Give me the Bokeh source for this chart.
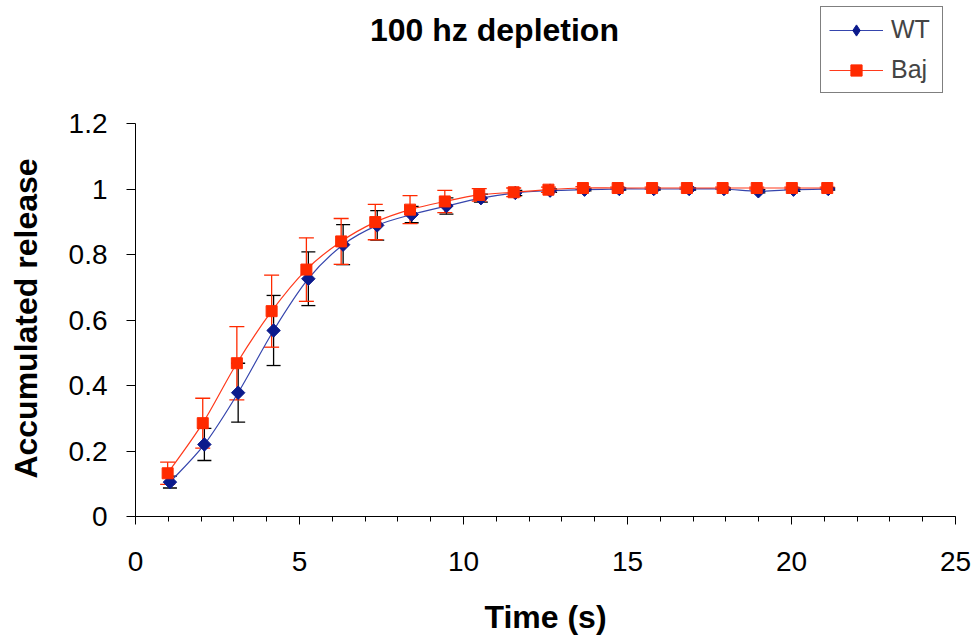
import numpy as np
from bokeh.plotting import figure
from bokeh.layouts import row
from bokeh.models import (ColumnDataSource, Range1d, FixedTicker, Whisker, TeeHead,
                          Label, Legend, LegendItem)
from bokeh.core.properties import value
from bokeh.embed import file_html
from bokeh.resources import INLINE

# ---------------- data ----------------
title_text = "100 hz depletion"
x_label = "Time (s)"
y_label = "Accumulated release"
x_ticks = [0, 5, 10, 15, 20, 25]
x_minor_ticks = list(range(0, 26))
y_ticks = [0, 0.2, 0.4, 0.6, 0.8, 1.0, 1.2]
y_tick_labels = ["0", "0.2", "0.4", "0.6", "0.8", "1", "1.2"]

wt_time = [1.05, 2.10, 3.13, 4.21, 5.27, 6.33, 7.37, 8.42, 9.48, 10.53,
           11.58, 12.64, 13.69, 14.75, 15.80, 16.88, 17.94, 18.99, 20.06, 21.12]
wt_release = [0.105, 0.220, 0.378, 0.568, 0.726, 0.830, 0.889, 0.922, 0.948, 0.972,
              0.988, 0.995, 0.998, 1.000, 1.000, 1.000, 1.000, 0.993, 0.998, 1.000]
wt_err = [0.018, 0.049, 0.090, 0.107, 0.082, 0.061, 0.045, 0.025, 0.025, 0.012,
          0.008, 0.005, 0.004, 0.003, 0.003, 0.003, 0.003, 0.005, 0.005, 0.003]

baj_time = [0.98, 2.05, 3.09, 4.15, 5.21, 6.27, 7.31, 8.37, 9.43, 10.48,
            11.53, 12.59, 13.64, 14.70, 15.75, 16.81, 17.90, 18.94, 20.01, 21.09]
baj_release = [0.132, 0.285, 0.468, 0.627, 0.754, 0.840, 0.899, 0.937, 0.962, 0.982,
               0.990, 0.998, 1.003, 1.003, 1.003, 1.003, 1.003, 1.003, 1.003, 1.003]
baj_err = [0.034, 0.076, 0.112, 0.110, 0.097, 0.070, 0.054, 0.043, 0.034, 0.019,
           0.013, 0.008, 0.004, 0.003, 0.003, 0.003, 0.003, 0.003, 0.003, 0.003]

FONT = "Liberation Sans"
WT_LINE = "#3545ad"
WT_MARK = "#0b1a8c"
BAJ_LINE = "#ff3a1c"
BAJ_MARK = "#ff2a00"

LABEL_STRIP = 50     # width of the strip that carries the vertical axis title
TOTAL_H = 637
FRAME_H = 516


def smooth_segments(xs, ys):
    """Bezier control points (Catmull-Rom style, like a smoothed spreadsheet line)."""
    xs = np.asarray(xs, float)
    ys = np.asarray(ys, float)
    n = len(xs)
    d = dict(x0=[], y0=[], x1=[], y1=[], cx0=[], cy0=[], cx1=[], cy1=[])
    for i in range(n - 1):
        a = max(i - 1, 0)
        b = min(i + 2, n - 1)
        d["x0"].append(xs[i]); d["y0"].append(ys[i])
        d["x1"].append(xs[i + 1]); d["y1"].append(ys[i + 1])
        d["cx0"].append(xs[i] + (xs[i + 1] - xs[a]) / 6)
        d["cy0"].append(ys[i] + (ys[i + 1] - ys[a]) / 6)
        d["cx1"].append(xs[i + 1] - (xs[b] - xs[i]) / 6)
        d["cy1"].append(ys[i + 1] - (ys[b] - ys[i]) / 6)
    return ColumnDataSource(d)


# ---- narrow strip with the rotated y-axis title (pixel coordinates) ----
ylab = figure(width=LABEL_STRIP, height=TOTAL_H,
              x_range=Range1d(0, LABEL_STRIP), y_range=Range1d(0, FRAME_H),
              x_axis_type=None, y_axis_type=None,
              min_border_left=0, min_border_right=0, min_border_top=0,
              min_border_bottom=TOTAL_H - FRAME_H,
              output_backend="svg", toolbar_location=None,
              background_fill_color="white", border_fill_color="white",
              outline_line_color=None)
ylab.grid.visible = False
ylab.text(x=[25], y=[FRAME_H - 318], text=[y_label], angle=np.pi / 2,
          text_align="center", text_baseline="alphabetic",
          text_font=value(FONT), text_font_size="32px", text_font_style="bold",
          text_color="black")

# ---- main chart ----
p = figure(frame_width=820, frame_height=FRAME_H,
           min_border_left=135 - LABEL_STRIP, min_border_right=21,
           min_border_top=0, min_border_bottom=TOTAL_H - FRAME_H,
           x_range=Range1d(0, 25), y_range=Range1d(0, 1.5756),
           output_backend="svg", toolbar_location=None,
           background_fill_color="white", border_fill_color="white",
           outline_line_color=None)
p.grid.visible = False

# axes
p.xaxis.ticker = FixedTicker(ticks=x_ticks, minor_ticks=x_minor_ticks)
p.yaxis.ticker = FixedTicker(ticks=y_ticks)
p.yaxis.major_label_overrides = {t: l for t, l in zip(y_ticks, y_tick_labels)}
p.xaxis.bounds = (0, 25)
p.yaxis.bounds = (0, 1.2)
for ax in (p.xaxis, p.yaxis):
    ax.axis_line_color = "black"
    ax.axis_line_width = 1
    ax.major_tick_line_color = "black"
    ax.minor_tick_line_color = "black"
    ax.major_tick_in = 0
    ax.minor_tick_in = 0
    ax.major_label_text_font = FONT
    ax.major_label_text_font_size = "28px"
    ax.major_label_text_color = "black"
p.xaxis.major_label_standoff = 27
p.yaxis.major_label_standoff = 19
p.xaxis.major_tick_out = 8
p.xaxis.minor_tick_out = 5
p.yaxis.major_tick_out = 9
p.yaxis.minor_tick_out = 0
p.xaxis.axis_label = x_label
p.xaxis.axis_label_text_font = FONT
p.xaxis.axis_label_text_font_size = "32px"
p.xaxis.axis_label_text_font_style = "bold"
p.xaxis.axis_label_text_color = "black"
p.xaxis.axis_label_standoff = 25

# chart title
p.add_layout(Label(x=10.945, y=1.484, text=title_text,
                   text_align="center", text_baseline="middle",
                   text_font=FONT, text_font_size="32px", text_font_style="bold",
                   text_color="black"))

# WT series
wt_src = ColumnDataSource(dict(x=wt_time, y=wt_release,
                               upper=[v + e for v, e in zip(wt_release, wt_err)],
                               lower=[v - e for v, e in zip(wt_release, wt_err)]))
p.add_layout(Whisker(base="x", upper="upper", lower="lower", source=wt_src,
                     dimension="height", line_color="black", line_width=1.3,
                     upper_head=TeeHead(size=14, line_color="black", line_width=1.3),
                     lower_head=TeeHead(size=14, line_color="black", line_width=1.3)))
wt_curve = p.bezier(x0="x0", y0="y0", x1="x1", y1="y1", cx0="cx0", cy0="cy0",
                    cx1="cx1", cy1="cy1", source=smooth_segments(wt_time, wt_release),
                    line_color=WT_LINE, line_width=1.2)
# diamond symbol (used by the legend), drawn beneath the wider rotated squares
wt_key = p.scatter(x="x", y="y", source=wt_src, marker="diamond", size=12,
                   fill_color=WT_MARK, line_color=WT_MARK)
wt_pts = p.scatter(x="x", y="y", source=wt_src, marker="square", angle=np.pi / 4,
                   size=9.5, fill_color=WT_MARK, line_color=WT_MARK)

# Baj series
baj_src = ColumnDataSource(dict(x=baj_time, y=baj_release,
                                upper=[v + e for v, e in zip(baj_release, baj_err)],
                                lower=[v - e for v, e in zip(baj_release, baj_err)]))
p.add_layout(Whisker(base="x", upper="upper", lower="lower", source=baj_src,
                     dimension="height", line_color=BAJ_MARK, line_width=1.3,
                     upper_head=TeeHead(size=15, line_color=BAJ_MARK, line_width=1.3),
                     lower_head=TeeHead(size=15, line_color=BAJ_MARK, line_width=1.3)))
baj_curve = p.bezier(x0="x0", y0="y0", x1="x1", y1="y1", cx0="cx0", cy0="cy0",
                     cx1="cx1", cy1="cy1", source=smooth_segments(baj_time, baj_release),
                     line_color=BAJ_LINE, line_width=1.2)
baj_pts = p.scatter(x="x", y="y", source=baj_src, marker="square",
                    size=11, fill_color=BAJ_MARK, line_color=BAJ_MARK)

legend = Legend(items=[LegendItem(label="WT", renderers=[wt_curve, wt_key]),
                       LegendItem(label="Baj", renderers=[baj_curve, baj_pts])],
                location=(685, 423), border_line_color="black", border_line_width=1,
                label_text_font=FONT, label_text_font_size="25px",
                glyph_width=54, glyph_height=28, label_height=28, label_width=43,
                label_standoff=8, padding=8, spacing=11, margin=0,
                background_fill_color="white", background_fill_alpha=1)
p.add_layout(legend)

layout = row(ylab, p, spacing=0)
open("out.html", "w").write(file_html(layout, INLINE))
